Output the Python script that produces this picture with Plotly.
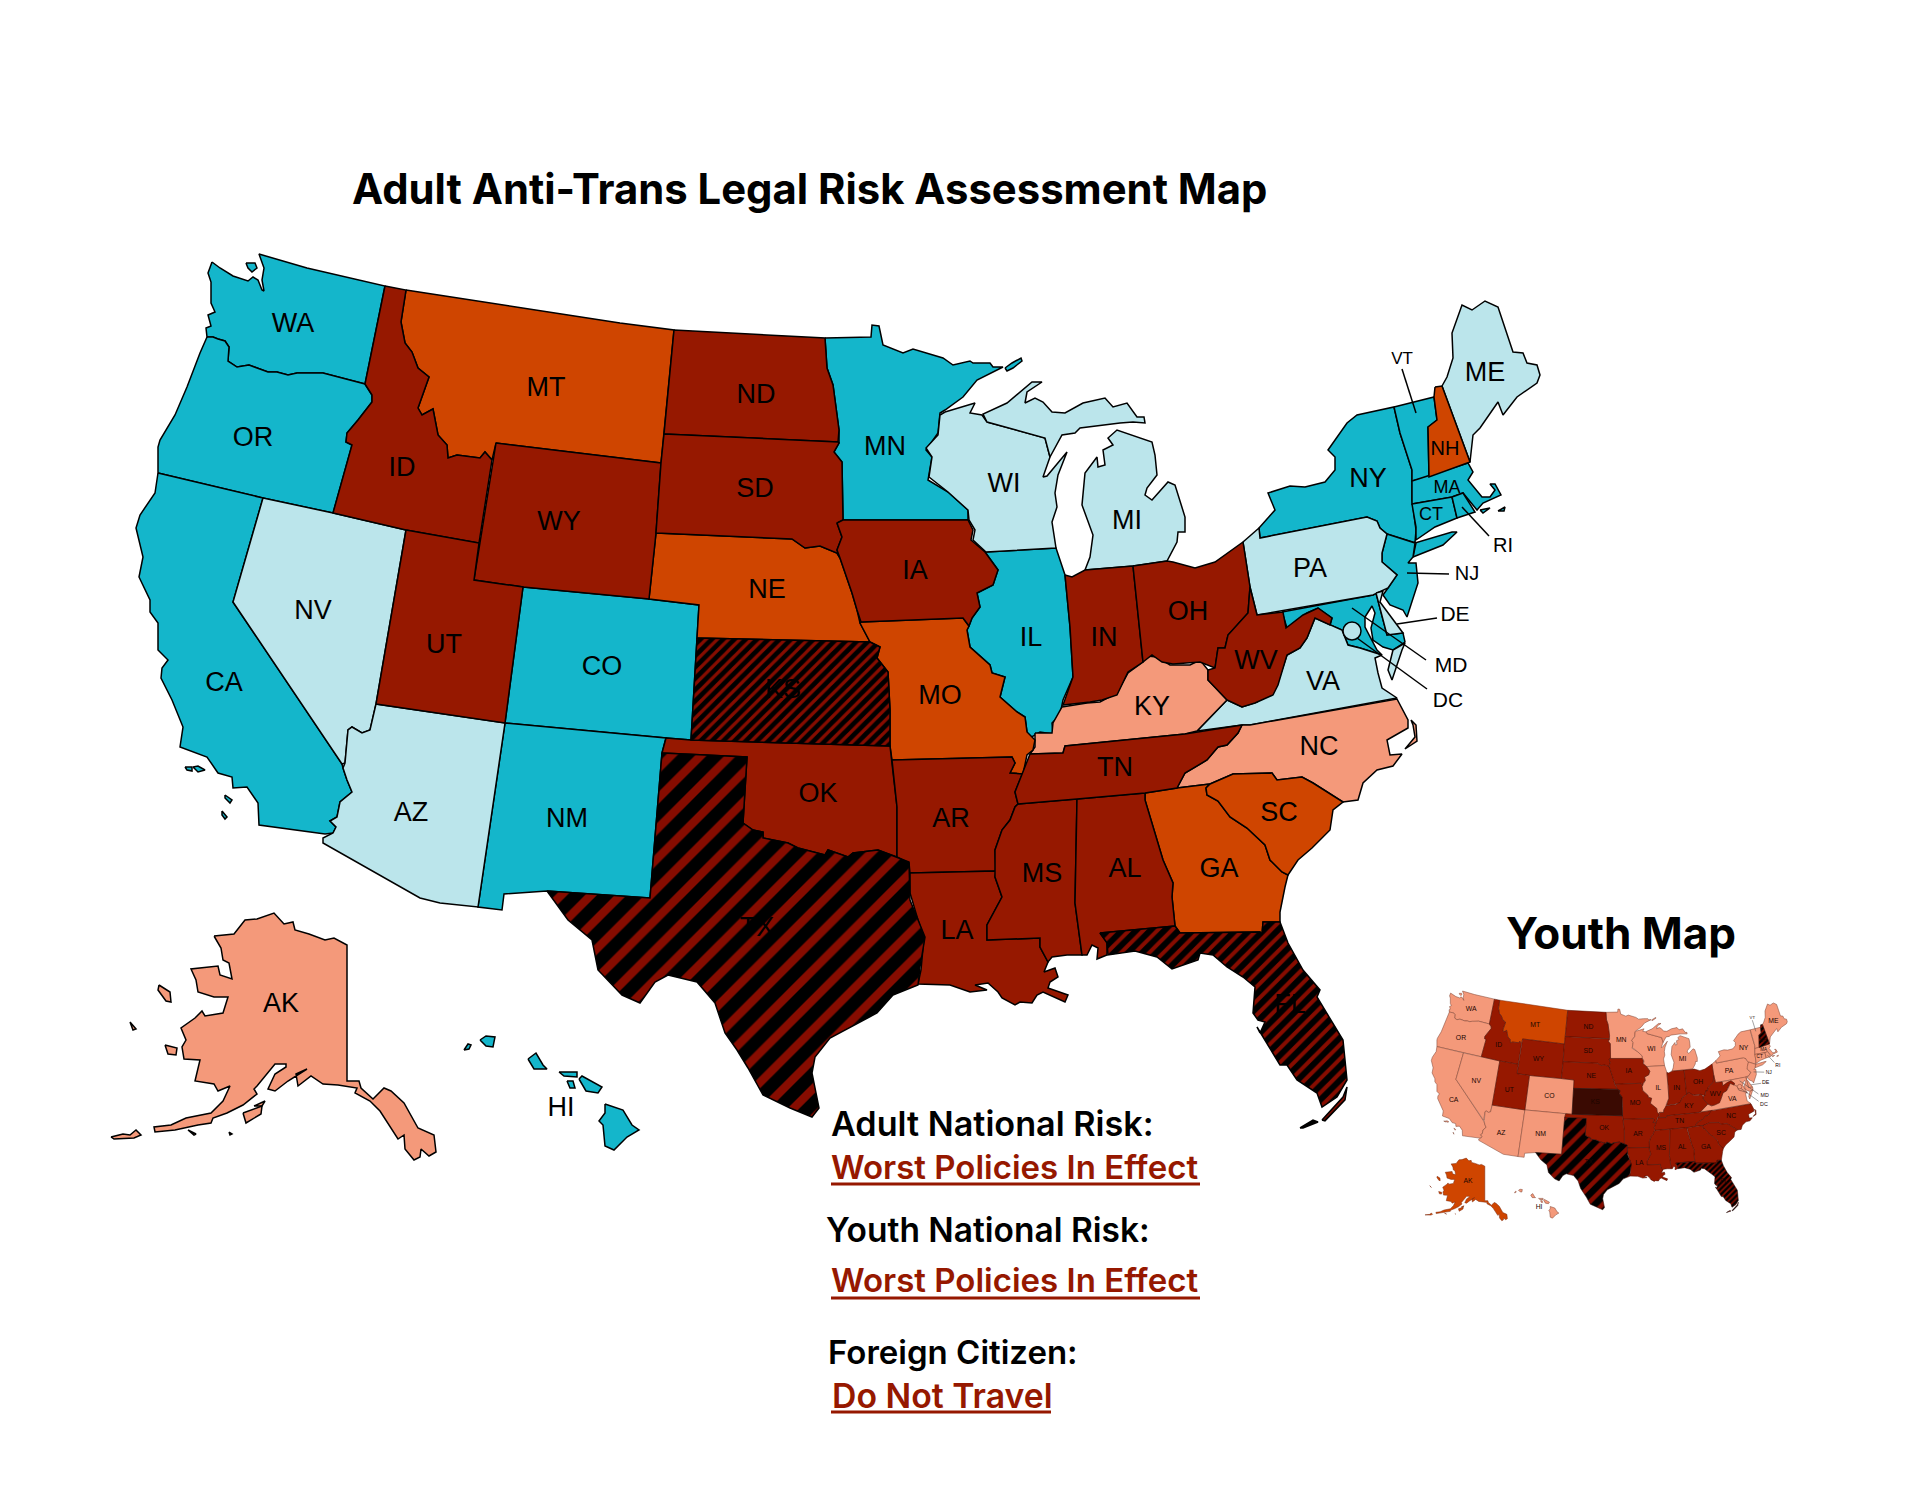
import plotly.graph_objects as go

# state outlines in picture pixels
WA = [[(212,262),(220,268),(233,276),(248,281),(253,277),(258,280),(262,290),(264,291),(262,280),(264,268),(259,254),(307,268),(385,286),(365,384),(323,373),(297,373),(288,375),(277,372),(268,372),(249,365),(237,367),(228,361),(229,347),(225,341),(218,339),(213,337),(207,337),(206,328),(211,326),(208,315),(215,312),(211,303),(211,282),(208,273)],
      [(246,263),(255,263),(257,268),(252,272),(248,268)]]
OR = [[(207,337),(213,337),(218,339),(225,341),(229,347),(228,361),(237,367),(249,365),(268,372),(277,372),(288,375),(297,373),(323,373),(365,384),(372,395),(372,402),(358,420),(347,433),(346,442),(352,445),(333,513),(263,498),(158,473),(158,447),(160,440),(175,415),(187,387),(200,353)]]
CA = [[(158,473),(263,498),(233,602),(342,764),(343,768),(347,780),(352,792),(340,802),(337,817),(330,821),(336,827),(333,833),(325,834),(259,825),(258,803),(247,787),(233,788),(232,777),(218,773),(207,757),(180,747),(183,727),(172,700),(161,678),(162,668),(168,660),(158,650),(158,623),(150,612),(150,600),(139,577),(143,557),(136,528),(140,515),(155,493),(157,477)],
      [(185,767),(192,767),(192,771),(187,770)],[(193,767),(198,766),(205,770),(198,772)],[(225,795),(232,800),(230,803),(225,798)],[(222,811),(227,817),(225,819),(222,815)]]
NV = [[(263,498),(333,513),(406,530),(376,704),(370,730),(362,733),(352,727),(348,730),(345,763),(342,764),(233,602)]]
AZ = [[(376,704),(505,723),(478,907),(440,903),(420,898),(323,843),(323,838),(333,833),(336,827),(330,821),(337,817),(340,802),(352,792),(347,780),(343,768),(344,764),(345,763),(348,730),(352,727),(362,733),(370,730)]]
ID = [[(385,286),(406,290),(401,322),(405,343),(412,352),(418,368),(429,377),(418,408),(422,415),(433,409),(438,435),(447,445),(448,458),(457,455),(480,458),(485,452),(492,460),(479,543),(406,530),(333,513),(352,445),(346,442),(347,433),(358,420),(372,402),(372,395),(365,384)]]
MT = [[(406,290),(620,323),(674,330),(664,434),(661,463),(496,443),(492,460),(485,452),(480,458),(457,455),(448,458),(447,445),(438,435),(433,409),(422,415),(418,408),(429,377),(418,368),(412,352),(405,343),(401,322)]]
WY = [[(496,443),(661,463),(656,533),(649,599),(523,587),(474,580)]]
UT = [[(406,530),(479,543),(474,580),(523,587),(505,723),(376,704)]]
CO = [[(523,587),(649,599),(699,605),(697,638),(691,740),(666,738),(505,723)]]
NM = [[(505,723),(666,738),(662,753),(650,898),(547,891),(504,894),(502,910),(478,907)]]
OK = [[(666,738),(691,740),(890,746),(897,807),(897,857),(878,850),(853,853),(848,857),(828,850),(825,855),(798,848),(788,843),(763,838),(763,832),(753,830),(743,823),(747,757),(662,753)]]
KS = [[(697,638),(870,642),(880,647),(877,658),(888,672),(890,710),(890,746),(691,740)]]
NE = [[(656,533),(792,539),(805,548),(820,546),(837,553),(840,558),(852,593),(857,610),(860,623),(870,642),(697,638),(699,605),(649,599)]]
SD = [[(664,434),(838,442),(839,443),(834,452),(842,462),(843,520),(837,523),(842,537),(837,550),(840,558),(837,553),(820,546),(805,548),(792,539),(656,533),(661,463)]]
ND = [[(674,330),(825,338),(827,368),(833,385),(839,430),(838,442),(664,434)]]
MN = [[(825,338),(871,337),(872,325),(879,326),(883,345),(903,353),(913,349),(943,358),(953,365),(970,361),(973,363),(990,363),(993,367),(1003,367),(977,380),(963,397),(945,410),(940,413),(938,433),(926,450),(932,457),(928,480),(948,492),(968,510),(968,520),(843,520),(842,462),(834,452),(839,443),(839,430),(833,385),(827,368)],
      [(1005,368),(1012,363),(1021,358),(1022,361),(1013,368),(1007,371)]]
IA = [[(837,523),(843,520),(968,520),(973,530),(971,540),(985,552),(998,570),(993,585),(977,593),(980,607),(972,618),(969,626),(963,618),(861,622),(857,610),(852,593),(840,558),(837,550),(842,537)]]
MO = [[(861,622),(963,618),(969,626),(967,630),(970,647),(990,665),(992,673),(1005,677),(1000,697),(1017,712),(1025,717),(1027,732),(1035,740),(1033,750),(1027,755),(1023,774),(1010,773),(1015,763),(1012,757),(892,760),(890,746),(890,710),(888,672),(877,658),(880,647),(870,642),(860,623)]]
IL = [[(985,552),(1056,548),(1065,575),(1070,627),(1073,677),(1063,700),(1060,715),(1052,723),(1053,734),(1040,732),(1030,738),(1027,732),(1025,717),(1017,712),(1000,697),(1005,677),(992,673),(990,665),(970,647),(967,630),(969,626),(972,618),(980,607),(977,593),(993,585),(998,570)]]
WI = [[(945,412),(970,405),(975,403),(970,413),(982,415),(987,422),(1045,438),(1050,457),(1043,477),(1047,476),(1067,452),(1058,475),(1055,493),(1057,507),(1052,522),(1056,548),(986,552),(973,540),(975,530),(969,520),(968,510),(948,492),(929,477),(932,457),(926,448),(938,435),(940,415)]]
MI = [[(987,422),(1045,438),(1050,457),(1062,435),(1075,433),(1080,428),(1120,423),(1133,422),(1145,423),(1144,417),(1137,417),(1127,403),(1113,407),(1105,398),(1083,403),(1065,413),(1052,412),(1043,402),(1035,398),(1025,403),(1027,392),(1042,382),(1032,382),(1013,398),(1007,403),(983,414)],
      [(1085,570),(1133,566),(1167,561),(1177,542),(1178,532),(1185,532),(1185,517),(1175,485),(1168,482),(1152,500),(1145,495),(1147,488),(1157,475),(1155,455),(1152,442),(1117,430),(1108,438),(1113,445),(1103,450),(1105,465),(1098,467),(1097,457),(1085,473),(1082,505),(1093,535),(1090,557)]]
IN = [[(1065,575),(1072,577),(1085,570),(1133,566),(1143,662),(1128,672),(1117,695),(1102,700),(1090,702),(1063,705),(1073,677),(1070,627)]]
OH = [[(1133,566),(1167,561),(1173,562),(1195,568),(1215,562),(1243,542),(1250,587),(1248,613),(1228,635),(1225,648),(1218,648),(1215,668),(1200,662),(1173,664),(1162,662),(1152,655),(1143,662)]]
WV = [[(1208,670),(1215,668),(1218,648),(1225,648),(1228,635),(1248,613),(1250,587),(1257,615),(1283,612),(1286,628),(1303,615),(1318,608),(1332,618),(1330,625),(1315,618),(1307,638),(1300,648),(1287,655),(1278,685),(1273,695),(1255,703),(1242,707),(1227,700),(1208,680)]]
KY = [[(1035,733),(1052,733),(1053,723),(1062,707),(1087,703),(1100,702),(1117,693),(1128,673),(1143,662),(1147,656),(1157,657),(1170,665),(1190,665),(1200,660),(1208,670),(1208,680),(1227,700),(1210,718),(1197,731),(1185,734),(1065,746),(1063,753),(1030,754),(1035,747)]]
TN = [[(1030,754),(1063,753),(1065,746),(1185,734),(1242,725),(1238,733),(1227,745),(1218,747),(1207,760),(1185,773),(1177,788),(1145,793),(1077,799),(1018,804),(1015,792),(1022,775)]]
VA = [[(1197,731),(1210,718),(1227,700),(1242,707),(1257,702),(1277,685),(1287,655),(1300,648),(1307,638),(1315,618),(1330,625),(1342,630),(1348,645),(1360,648),(1382,655),(1375,658),(1378,673),(1382,688),(1397,698),(1250,725),(1242,725)],
      [(1393,650),(1405,643),(1402,650),(1396,668),(1392,680),(1388,670)]]
NC = [[(1242,725),(1250,725),(1397,699),(1408,720),(1408,728),(1387,740),(1390,755),(1402,754),(1393,766),(1377,770),(1363,783),(1358,800),(1343,802),(1313,783),(1302,777),(1277,780),(1272,773),(1233,774),(1210,784),(1177,788),(1185,773),(1207,760),(1218,747),(1227,745),(1238,733)],
      [(1411,720),(1416,725),(1417,741),(1405,749),(1415,737),(1413,725)]]
SC = [[(1210,784),(1233,774),(1272,773),(1277,780),(1302,777),(1313,783),(1343,802),(1333,810),(1330,830),(1312,848),(1298,860),(1288,875),(1282,872),(1270,860),(1265,845),(1247,828),(1230,817),(1218,801),(1207,795),(1206,788)]]
GA = [[(1145,793),(1177,788),(1210,784),(1206,788),(1207,795),(1218,801),(1230,817),(1247,828),(1265,845),(1270,860),(1282,872),(1288,875),(1285,887),(1280,912),(1280,922),(1263,922),(1262,935),(1260,932),(1180,933),(1175,926),(1172,897),(1173,883),(1163,860),(1145,800)]]
AL = [[(1077,799),(1145,793),(1145,800),(1163,860),(1173,883),(1172,897),(1175,926),(1100,933),(1107,942),(1107,955),(1097,959),(1098,948),(1092,945),(1087,955),(1082,955),(1075,903)]]
MS = [[(1018,804),(1077,799),(1075,903),(1082,955),(1067,955),(1052,957),(1048,962),(1040,947),(1040,938),(987,940),(987,925),(1002,897),(995,877),(995,850),(1002,830),(1010,820),(1015,807)]]
AR = [[(892,760),(1012,757),(1015,763),(1010,773),(1023,774),(1022,775),(1015,792),(1018,804),(1015,807),(1010,820),(1002,830),(995,850),(996,871),(910,873),(909,863),(897,857),(897,807)]]
LA = [[(910,873),(996,871),(995,877),(1002,897),(987,925),(987,940),(1040,938),(1040,947),(1048,962),(1044,972),(1055,968),(1058,977),(1050,982),(1048,988),(1068,995),(1065,1002),(1043,992),(1037,995),(1032,1003),(1020,1002),(1015,1005),(1002,998),(998,992),(988,983),(975,985),(987,990),(970,992),(950,985),(918,984),(921,970),(924,937),(918,920),(910,893)]]
TX = [[(662,753),(747,757),(743,823),(753,830),(763,832),(763,838),(788,843),(798,848),(825,855),(828,850),(848,857),(853,853),(878,850),(897,857),(909,862),(910,900),(925,937),(920,967),(918,985),(893,995),(877,1013),(830,1038),(815,1057),(812,1073),(819,1108),(812,1117),(790,1108),(763,1095),(748,1068),(737,1050),(725,1033),(715,1003),(697,982),(668,975),(655,982),(640,1003),(622,995),(598,970),(592,940),(568,920),(547,891),(650,898)]]
FL = [[(1100,933),(1175,926),(1180,933),(1260,932),(1262,935),(1263,922),(1280,922),(1288,943),(1303,970),(1320,990),(1317,997),(1327,1013),(1343,1040),(1347,1080),(1337,1097),(1322,1107),(1317,1093),(1297,1080),(1287,1065),(1280,1065),(1257,1027),(1260,1033),(1265,1022),(1258,1020),(1253,1013),(1255,987),(1243,977),(1227,967),(1213,955),(1200,953),(1198,960),(1172,969),(1157,957),(1135,951),(1108,955),(1107,943)],
      [(1300,1128),(1313,1120),(1318,1122),(1303,1128)],[(1322,1120),(1343,1097),(1347,1087),(1345,1100),(1325,1121)]]
NY = [[(1260,538),(1259,528),(1275,510),(1268,493),(1290,486),(1305,487),(1325,482),(1335,470),(1335,457),(1328,450),(1347,423),(1357,415),(1394,407),(1400,433),(1412,470),(1412,500),(1416,530),(1415,543),(1452,532),(1457,532),(1443,545),(1413,557),(1416,543),(1387,534),(1380,528),(1377,521),(1367,517)]]
PA = [[(1243,542),(1259,528),(1260,538),(1367,517),(1377,521),(1380,528),(1387,534),(1382,553),(1382,562),(1397,575),(1388,588),(1373,595),(1257,615),(1250,587)]]
NJ = [[(1387,534),(1415,543),(1413,557),(1408,563),(1416,563),(1418,583),(1407,617),(1403,610),(1390,605),(1383,595),(1388,588),(1397,575),(1382,562),(1382,553)]]
DE = [[(1376,593),(1383,591),(1380,602),(1393,620),(1403,633),(1387,635)]]
MD = [[(1282,612),(1373,595),(1376,593),(1387,635),(1403,633),(1405,642),(1393,650),(1383,647),(1373,640),(1371,628),(1375,613),(1372,606),(1365,617),(1365,627),(1377,650),(1382,655),(1360,648),(1348,645),(1342,630),(1330,625),(1332,618),(1318,608),(1307,613),(1287,628)]]
CT = [[(1412,504),(1452,497),(1457,518),(1435,527),(1416,540),(1416,527)]]
RI = [[(1452,497),(1463,493),(1475,512),(1457,518)]]
MA = [[(1412,481),(1468,463),(1473,472),(1468,480),(1482,497),(1490,497),(1495,490),(1490,484),(1495,484),(1501,495),(1483,503),(1477,510),(1463,493),(1452,497),(1412,504)],
      [(1480,510),(1490,508),(1483,513)],[(1498,511),(1505,507),(1504,511)]]
VT = [[(1394,407),(1434,397),(1437,420),(1428,427),(1429,477),(1412,481),(1412,470),(1400,433)]]
NH = [[(1435,387),(1442,386),(1470,462),(1429,477),(1428,427),(1437,420),(1434,397)]]
ME = [[(1442,386),(1447,377),(1453,358),(1452,333),(1462,305),(1472,310),(1485,301),(1498,307),(1513,352),(1523,353),(1527,363),(1537,365),(1540,375),(1537,383),(1517,397),(1503,415),(1498,402),(1480,428),(1473,435),(1470,462)]]
AK = [[(214,936),(234,934),(245,920),(257,919),(274,913),(284,924),(293,922),(295,930),(309,934),(325,940),(334,938),(347,945),(347,1081),(359,1081),(361,1088),(373,1099),(384,1088),(391,1091),(404,1103),(418,1128),(434,1135),(436,1152),(429,1156),(421,1149),(420,1157),(414,1160),(405,1149),(404,1135),(398,1139),(386,1120),(380,1111),(370,1101),(355,1093),(357,1088),(338,1085),(323,1084),(311,1076),(298,1086),(296,1074),(307,1069),(288,1081),(275,1091),(268,1089),(275,1074),(286,1067),(286,1064),(275,1064),(257,1086),(254,1089),(257,1094),(243,1105),(227,1113),(213,1118),(211,1123),(198,1125),(175,1130),(155,1132),(154,1127),(171,1125),(186,1118),(211,1113),(223,1101),(230,1086),(218,1091),(214,1084),(195,1081),(200,1060),(184,1059),(182,1047),(186,1040),(181,1028),(195,1018),(202,1011),(205,1016),(223,1013),(228,997),(214,997),(198,992),(196,980),(191,969),(218,966),(220,975),(232,979),(229,963),(223,960),(221,948)],
      [(159,985),(170,992),(171,1002),(166,1001),(158,990)],[(165,1045),(177,1048),(176,1055),(168,1054)],[(130,1022),(136,1029),(133,1030)],
      [(243,1113),(262,1106),(261,1114),(246,1123)],[(254,1106),(265,1101),(262,1106)],[(111,1137),(123,1134),(130,1135),(136,1130),(141,1135),(134,1138),(114,1139)],
      [(188,1130),(196,1134),(194,1135)],[(229,1132),(232,1134),(230,1135)]]
HI = [[(464,1050),(468,1044),(471,1045),(469,1049)],[(480,1040),(486,1036),(495,1037),(493,1047),(486,1046)],[(528,1059),(536,1053),(543,1065),(547,1069),(534,1069)],
      [(559,1072),(577,1072),(577,1077),(564,1076)],[(567,1081),(573,1081),(575,1088),(570,1088)],[(579,1079),(582,1076),(602,1087),(598,1093),(586,1091)],
      [(605,1104),(623,1110),(632,1125),(639,1130),(627,1137),(614,1150),(605,1146),(603,1125),(599,1121),(605,1113)]]

outlines = dict(WA=WA, OR=OR, CA=CA, NV=NV, AZ=AZ, ID=ID, MT=MT, WY=WY, UT=UT, CO=CO, NM=NM, OK=OK, KS=KS, NE=NE, SD=SD, ND=ND,
                MN=MN, IA=IA, MO=MO, IL=IL, WI=WI, MI=MI, IN=IN, OH=OH, WV=WV, KY=KY, TN=TN, VA=VA, NC=NC, SC=SC, GA=GA, AL=AL,
                MS=MS, AR=AR, LA=LA, TX=TX, FL=FL, NY=NY, PA=PA, NJ=NJ, DE=DE, MD=MD, CT=CT, RI=RI, MA=MA, VT=VT, NH=NH, ME=ME, AK=AK, HI=HI)

# risk category of every state on each map
adult_safe = ["WA", "OR", "CA", "CO", "NM", "MN", "IL", "NY", "VT", "MA", "CT", "RI", "NJ", "MD", "HI"]
adult_low = ["NV", "AZ", "WI", "MI", "PA", "ME", "VA", "DE"]
adult_moderate = ["AK", "KY", "NC"]
adult_high = ["MT", "NE", "MO", "GA", "SC", "NH"]
adult_worst = ["ID", "WY", "UT", "ND", "SD", "IA", "IN", "OH", "WV", "OK", "AR", "LA", "MS", "AL", "TN"]
adult_ban = ["KS", "TX", "FL"]

youth_moderate = ["WA", "OR", "CA", "NV", "AZ", "CO", "NM", "MN", "WI", "IL", "MI", "PA", "NY", "VT", "ME", "MA", "CT", "RI", "NJ", "DE", "MD", "VA", "HI"]
youth_high = ["MT", "AK"]
youth_worst = ["ID", "WY", "UT", "ND", "SD", "NE", "IA", "MO", "IN", "OH", "WV", "KY", "TN", "NC", "SC", "GA", "AL", "MS", "AR", "LA", "OK"]
youth_felony = ["KS"]
youth_ban = ["TX"]
youth_ban_fine = ["FL", "NH"]

TEAL = "#14B6CB"
LIGHT = "#BBE5EB"
SALMON = "#F4997A"
ORANGE = "#CF4500"
RED = "#961800"
HATCH_RED = "#860C00"
DARK = "#3A0A02"

label_names = ["WA","OR","ID","MT","WY","NV","UT","CO","CA","AZ","NM","ND","SD","MN","NE","IA","WI","IL","KS","MO","IN","OH","MI","WV","KY","TN","AR","MS","AL","LA","GA","SC","NC","OK","TX","FL","VA","PA","NY","ME","AK","HI","NH","MA","CT","VT","RI","NJ","DE","MD","DC"]
label_x = [293,253,402,546,559,313,444,602,224,411,567,756,755,885,767,915,1004,1031,783,940,1104,1188,1127,1256,1152,1115,951,1042,1125,957,1219,1279,1319,818,757,1290,1323,1310,1368,1485,281,561,1445,1447,1431,1402,1503,1467,1455,1451,1448]
label_y = [325,439,469,389,523,612,646,668,684,814,820,396,490,448,591,572,485,639,691,697,639,613,522,662,708,769,820,875,870,932,870,814,748,795,929,1006,683,570,480,374,1005,1109,450,488,515,360,547,575,616,667,702]
label_sizes = [27]*42 + [20,18,18,17,20,20,21,21,21]

leader_x = [1402,1416,None,1462,1489,None,1407,1449,None,1397,1437,None,1352,1426,None,1357,1427]
leader_y = [369,413,None,507,536,None,573,574,None,624,618,None,608,660,None,638,689]
dc_x = [1352]
dc_y = [631]

text_lines = ["Adult National Risk:", "Worst Policies In Effect", "Youth National Risk:", "Worst Policies In Effect", "Foreign Citizen:", "Do Not Travel"]
text_x = [829, 829, 824, 829, 826, 830]
text_y = [1123, 1167, 1230, 1280, 1352, 1395]
text_sizes = [34.2, 33, 33.5, 33, 33, 33.8]
text_colors = ["#000000", RED, "#000000", RED, "#000000", RED]
underline_x0 = [831, 831, 831]
underline_x1 = [1200, 1200, 1051]
underline_y = [1184, 1298, 1412]

# the page body keeps its default 8px margin, so both axes start at 8
PAGE_MARGIN = 8


def state_xy(name):
    xs, ys = [], []
    for piece in outlines[name]:
        xs += [p[0] for p in piece] + [piece[0][0], None]
        ys += [p[1] for p in piece] + [piece[0][1], None]
    return xs, ys


def add_states(fig, names, style, xaxis, yaxis, line_color, line_width):
    for name in names:
        xs, ys = state_xy(name)
        fig.add_trace(go.Scatter(x=xs, y=ys, mode="lines", fill="toself", xaxis=xaxis, yaxis=yaxis,
                                 line=dict(color=line_color, width=line_width), hoverinfo="skip", **style))


def solid(color):
    return dict(fillcolor=color)


def hatch(size, solidity, bg=HATCH_RED):
    return dict(fillpattern=dict(shape="/", fgcolor="#000000", fgopacity=1, bgcolor=bg, fillmode="replace",
                                 size=size, solidity=solidity))


fig = go.Figure()

add_states(fig, adult_safe, solid(TEAL), "x", "y", "#000000", 1.5)
add_states(fig, adult_low, solid(LIGHT), "x", "y", "#000000", 1.5)
add_states(fig, adult_moderate, solid(SALMON), "x", "y", "#000000", 1.5)
add_states(fig, adult_high, solid(ORANGE), "x", "y", "#000000", 1.5)
add_states(fig, adult_worst, solid(RED), "x", "y", "#000000", 1.5)
add_states(fig, ["TX"], hatch(21, 0.6), "x", "y", "#000000", 1.5)
add_states(fig, ["KS"], hatch(8, 0.6), "x", "y", "#000000", 1.5)
add_states(fig, ["FL"], hatch(10, 0.6), "x", "y", "#000000", 1.5)

add_states(fig, youth_moderate, solid(SALMON), "x2", "y2", "#7A4030", 0.5)
add_states(fig, youth_high, solid(ORANGE), "x2", "y2", "#7A2A10", 0.5)
add_states(fig, youth_worst, solid(RED), "x2", "y2", "#4A0C00", 0.5)
add_states(fig, youth_felony, solid(DARK), "x2", "y2", "#200500", 0.5)
add_states(fig, youth_ban, hatch(11, 0.6), "x2", "y2", "#200500", 0.5)
add_states(fig, youth_ban_fine, hatch(4, 0.6), "x2", "y2", "#200500", 0.5)

fig.add_trace(go.Scatter(x=leader_x, y=leader_y, mode="lines", line=dict(color="#000000", width=1.5), hoverinfo="skip"))
fig.add_trace(go.Scatter(x=leader_x, y=leader_y, mode="lines", xaxis="x2", yaxis="y2", line=dict(color="#444444", width=0.5), hoverinfo="skip"))
fig.add_trace(go.Scatter(x=dc_x, y=dc_y, mode="markers", hoverinfo="skip",
                         marker=dict(size=18, color=LIGHT, line=dict(color="#000000", width=1.5))))
fig.add_trace(go.Scatter(x=dc_x, y=dc_y, mode="markers", xaxis="x2", yaxis="y2", hoverinfo="skip",
                         marker=dict(size=4.5, color=SALMON, line=dict(color="#7A4030", width=0.5))))

fig.add_trace(go.Scatter(x=label_x, y=label_y, text=label_names, mode="text", hoverinfo="skip",
                         textfont=dict(family="Liberation Sans", size=label_sizes, color="#000000")))
fig.add_trace(go.Scatter(x=label_x, y=label_y, text=label_names, mode="text", xaxis="x2", yaxis="y2", hoverinfo="skip",
                         textfont=dict(family="Liberation Sans", size=[s * 0.2535 for s in label_sizes], color="#1A0500")))

fig.add_annotation(x=809, y=189, text="Adult Anti-Trans Legal Risk Assessment Map", showarrow=False,
                   xref="x", yref="y", font=dict(family="Inter", size=41.8, color="#000000", weight=700))
fig.add_annotation(x=1621, y=933, text="Youth Map", showarrow=False,
                   xref="x", yref="y", font=dict(family="Inter", size=44, color="#000000", weight=700))
for line, x, y, size, color in zip(text_lines, text_x, text_y, text_sizes, text_colors):
    fig.add_annotation(x=x, y=y, text=line, showarrow=False, xanchor="left", xref="x", yref="y",
                       font=dict(family="Inter", size=size, color=color, weight=600))
for x0, x1, y in zip(underline_x0, underline_x1, underline_y):
    fig.add_shape(type="line", x0=x0, x1=x1, y0=y, y1=y, xref="x", yref="y", line=dict(color=RED, width=3))

fig.update_layout(
    width=1915, height=1490, showlegend=False, paper_bgcolor="white", plot_bgcolor="white",
    margin=dict(l=0, r=0, t=0, b=0),
    xaxis=dict(range=[PAGE_MARGIN, 1915 + PAGE_MARGIN], domain=[0, 1], visible=False),
    yaxis=dict(range=[1490 + PAGE_MARGIN, PAGE_MARGIN], domain=[0, 1], visible=False),
    xaxis2=dict(range=[71.4, 1649.3], domain=[0.7347, 0.9436], anchor="y2", visible=False),
    yaxis2=dict(range=[1235.9, 210.2], domain=[0.1732, 0.3477], anchor="x2", visible=False),
)

fig.write_html("out.html")
